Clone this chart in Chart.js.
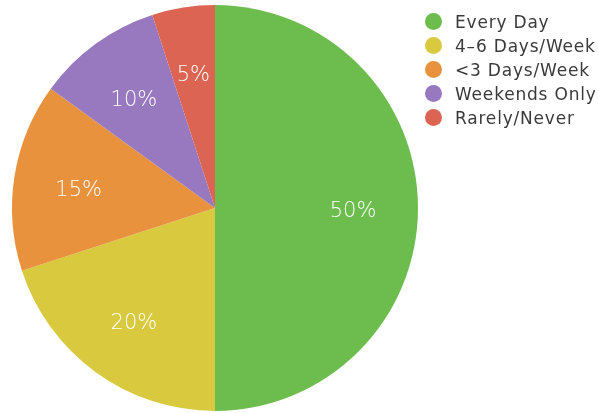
<!DOCTYPE html>
<html>
<head>
<meta charset="utf-8">
<script src="https://cdn.jsdelivr.net/npm/chart.js@4"></script>
<style>
body{margin:0;background:#fff;}
#wrap{position:absolute;left:0;top:0;width:430px;height:413px;}
#legend{position:absolute;left:424px;top:10px;font-family:"DejaVu Sans",sans-serif;font-size:17px;letter-spacing:0.8px;color:#3a3a3a;}
#legend div{height:24px;line-height:24px;white-space:nowrap;}
#legend span{display:inline-block;width:17px;height:17px;border-radius:50%;vertical-align:middle;margin:-3px 13px 0 1px;}
</style>
</head>
<body>
<div id="wrap"><canvas id="myChart"></canvas></div>
<div id="legend"></div>
<script>
var labels=["Every Day","4-6 Days/Week","<3 Days/Week","Weekends Only","Rarely/Never"];
var legendLabels=["Every Day","4\u20136 Days/Week","<3 Days/Week","Weekends Only","Rarely/Never"];
var values=[50,20,15,10,5];
var colors=['#6dbd4e','#d9c93f','#e8923e','#9879bf','#dc6453'];

var leg=document.getElementById('legend');
for(var i=0;i<legendLabels.length;i++){
var d=document.createElement('div');
var s=document.createElement('span');
s.style.background=colors[i];
d.appendChild(s);
d.appendChild(document.createTextNode(legendLabels[i]));
leg.appendChild(d);
}

var pctLabels={
id:'pctLabels',
afterDatasetsDraw:function(chart){
var ctx=chart.ctx;
var meta=chart.getDatasetMeta(0);
ctx.save();
ctx.fillStyle='#ffffff';
ctx.font='200 21px "DejaVu Sans",sans-serif';
ctx.textAlign='center';
ctx.textBaseline='middle';
meta.data.forEach(function(arc,i){
var p=arc.getProps(['x','y','startAngle','endAngle','outerRadius'],true);
var a=(p.startAngle+p.endAngle)/2;
var r=p.outerRadius*0.68;
ctx.fillText(values[i]+'%',p.x+Math.cos(a)*r,p.y+Math.sin(a)*r+4);
});
ctx.restore();
}
};

var chart=new Chart(document.getElementById('myChart').getContext('2d'),{
type:'pie',
data:{
labels:labels,
datasets:[{data:values,backgroundColor:colors,borderWidth:0}]
},
options:{
responsive:true,
maintainAspectRatio:false,
animation:false,
layout:{padding:{top:5,bottom:2,left:0,right:0}},
plugins:{legend:{display:false},tooltip:{enabled:false}}
},
plugins:[pctLabels]
});
</script>
</body>
</html>
